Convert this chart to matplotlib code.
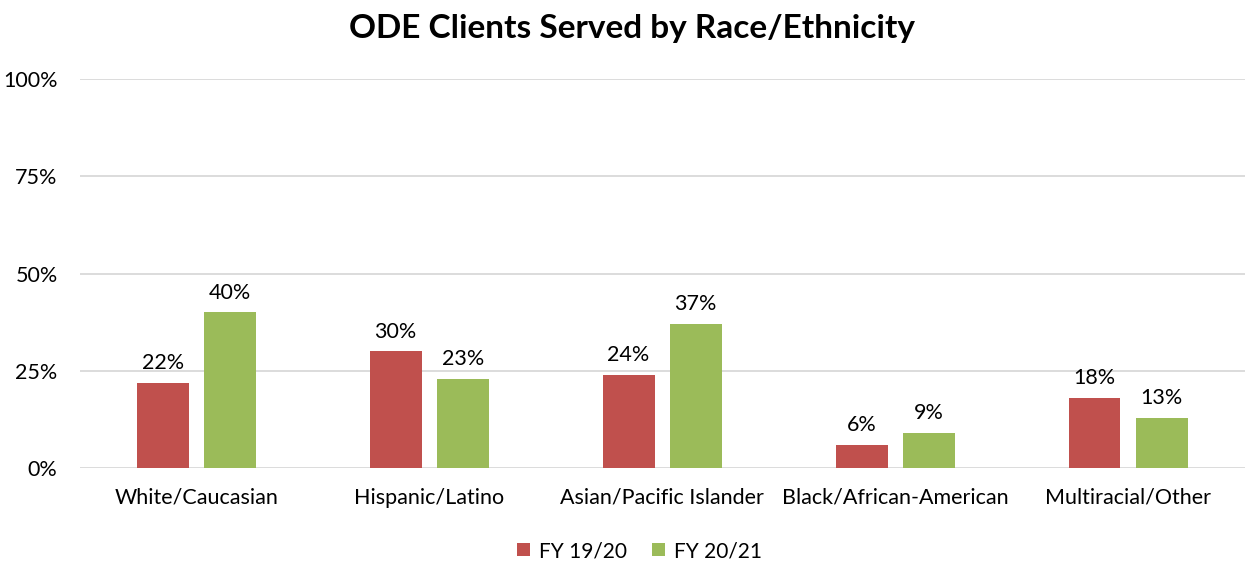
import numpy as np
import matplotlib
matplotlib.use("Agg")
import matplotlib.pyplot as plt

# ------------------ Data ------------------
categories = ["White/Caucasian", "Hispanic/Latino", "Asian/Pacific Islander",
              "Black/African-American", "Multiracial/Other"]
fy1920 = [22, 30, 24, 6, 18]
fy2021 = [40, 23, 37, 9, 13]
series_names = ["FY 19/20", "FY 20/21"]
yticks = [0, 25, 50, 75, 100]

# ------------------ Plot ------------------
plt.rcParams['font.family'] = ['Lato', 'DejaVu Sans']

fig = plt.figure(figsize=(12.47, 5.64), dpi=100)
ax = fig.add_axes([0.064, 0.170, 0.934, 0.690])

x = np.arange(len(categories))
w = 0.223
off = 0.144
b1 = ax.bar(x - off, fy1920, w, color="#C0504D", label=series_names[0], zorder=3)
b2 = ax.bar(x + off, fy2021, w, color="#9BBB59", label=series_names[1], zorder=3)

for bars in (b1, b2):
    for rect in bars:
        h = rect.get_height()
        ax.annotate(f"{h:.0f}%", (rect.get_x() + rect.get_width() / 2, h),
                    xytext=(0, 7), textcoords="offset points",
                    ha="center", va="bottom", fontsize=15.5, color="#000000")

ax.set_xlim(-0.5, len(categories) - 0.5)
ax.set_ylim(0, 100)
ax.set_yticks(yticks)
ax.set_yticklabels([f"{t}%" for t in yticks], fontsize=15.5)
ax.set_xticks(x)
ax.set_xticklabels(categories, fontsize=15.5)
ax.tick_params(axis="both", length=0)
ax.tick_params(axis="y", pad=16)
ax.tick_params(axis="x", pad=14)
ax.grid(axis="y", color="#D9D9D9", lw=1.3, zorder=0)
for s in ax.spines.values():
    s.set_visible(False)

fig.suptitle("ODE Clients Served by Race/Ethnicity", fontsize=24, fontweight="bold",
             x=0.507, y=0.975)

fig.legend(handles=[b1, b2], labels=series_names, loc="center",
           bbox_to_anchor=(0.513, 0.023), ncol=2, frameon=False,
           fontsize=15, handlelength=0.6, handleheight=0.6, handletextpad=0.45,
           columnspacing=1.2)

fig.savefig("out.png", dpi=100)
